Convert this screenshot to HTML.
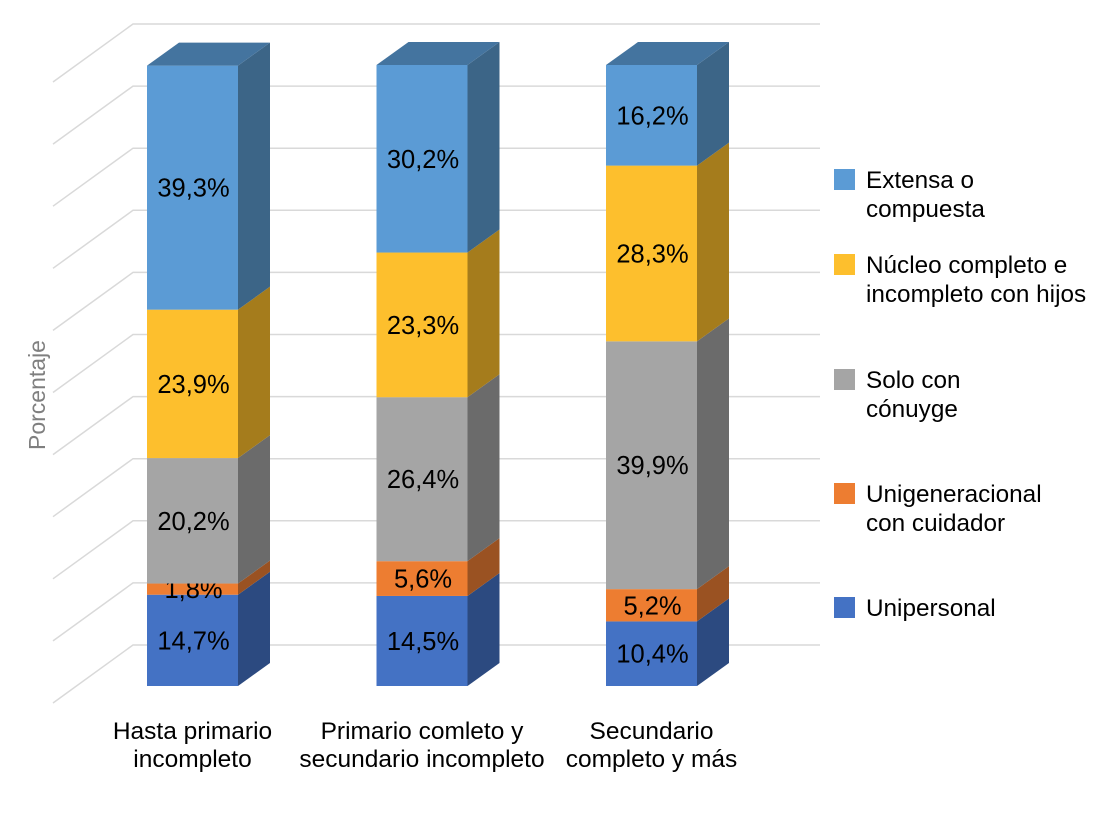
<!DOCTYPE html>
<html><head><meta charset="utf-8"><style>
body{margin:0;background:#fff;}
svg text{font-family:"Liberation Sans",sans-serif;}
</style></head><body>
<svg id="c" width="1110" height="816"></svg>
<script>
const categories=[["Hasta primario","incompleto"],["Primario comleto y","secundario incompleto"],["Secundario","completo y más"]];
const seriesNames=[["Unipersonal"],["Unigeneracional","con cuidador"],["Solo con","cónuyge"],["Núcleo completo e","incompleto con hijos"],["Extensa o","compuesta"]];
const unipersonal=[14.7,14.5,10.4];
const unigeneracional=[1.8,5.6,5.2];
const soloConyuge=[20.2,26.4,39.9];
const nucleo=[23.9,23.3,28.3];
const extensa=[39.3,30.2,16.2];
const gridTicks=[0,10,20,30,40,50,60,70,80,90,100];
const series=[unipersonal,unigeneracional,soloConyuge,nucleo,extensa];
const frontCol=["#4472c4","#ed7d31","#a5a5a5","#fdbf2d","#5b9bd5"];
const sideCol=["#2c4a80","#9a5222","#6b6b6b","#a57c1c","#3c6587"];
const topCol=["#34568f","#b35e26","#7c7c7c","#bf901f","#44749f"];
const svg=document.getElementById('c');const NS="http://www.w3.org/2000/svg";
function mk(t,a,p){const e=document.createElementNS(NS,t);for(const k in a)e.setAttribute(k,a[k]);(p||svg).appendChild(e);return e;}
const yF=v=>686-v*6.21; const yG=v=>645-v*6.21;
const xB=i=>147+i*229.5; const BW=91, DX=32, DY=23;
gridTicks.forEach(t=>{const y=yG(t);
 const g=mk('polyline',{points:`53,${y+58} 133,${y} 820,${y}`,fill:'none',stroke:'#d9d9d9','stroke-width':1.5});
 
 });
categories.forEach((c,i)=>{let cum=0;const x=xB(i);
 series.forEach((s,j)=>{const v=s[i];const y0=yF(cum),y1=yF(cum+v);cum+=v;
  const f=mk('rect',{x:x,y:y1,width:BW,height:y0-y1,fill:frontCol[j]});
  
  
  const sd=mk('polygon',{points:`${x+BW},${y0} ${x+BW+DX},${y0-DY} ${x+BW+DX},${y1-DY} ${x+BW},${y1}`,fill:sideCol[j]});
  
  
  if(j===series.length-1){const tp=mk('polygon',{points:`${x},${y1} ${x+DX},${y1-DY} ${x+BW+DX},${y1-DY} ${x+BW},${y1}`,fill:topCol[j]});
   
   }
  const l=mk('text',{x:x+BW/2+1,y:(y0+y1)/2+9,'text-anchor':'middle','font-size':25.5,fill:'#000'});
  l.textContent=v.toFixed(1).replace('.',',')+'%';
  
  });
 c.forEach((ln,k)=>{const t=mk('text',{x:x+BW/2+0,y:739+k*28,'text-anchor':'middle','font-size':24.5,fill:'#000'});t.textContent=ln;
  
  });
});
const lgY=[608,494,380,265,180];
seriesNames.forEach((n,j)=>{const y=lgY[j];
 const r=mk('rect',{x:834,y:y-11,width:21,height:21,fill:frontCol[j]});
 
 
 n.forEach((ln,k)=>{const t=mk('text',{x:866,y:y+8+k*29,'font-size':24.3,fill:'#000'});t.textContent=ln;
  
  });});
const at=mk('text',{x:0,y:0,'font-size':23,fill:'#7f7f7f','text-anchor':'middle',transform:'translate(45,395) rotate(-90)'});
at.textContent='Porcentaje';


</script>
</body></html>
